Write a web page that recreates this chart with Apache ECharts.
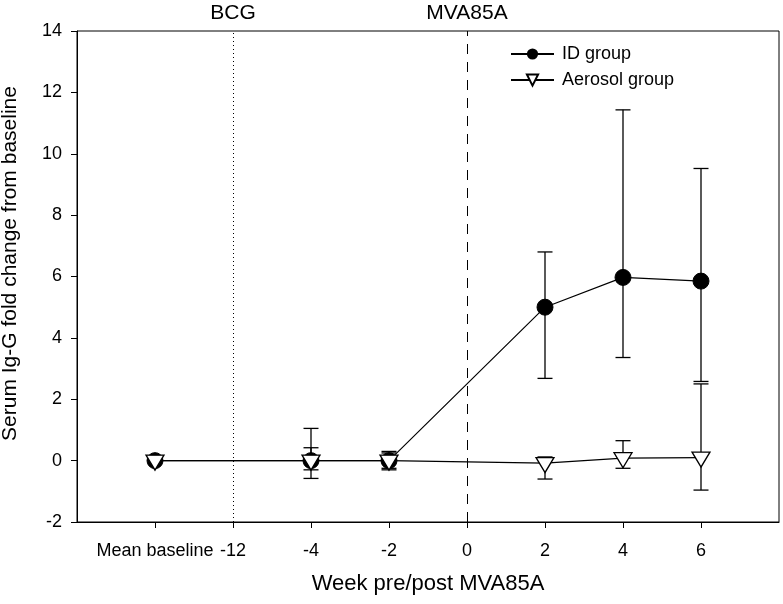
<!DOCTYPE html>
<html>
<head>
<meta charset="utf-8">
<script src="https://cdn.jsdelivr.net/npm/echarts@6/dist/echarts.min.js"></script>
<style>
html, body { margin: 0; background: #fff; }
#main { width: 783px; height: 604px; }
</style>
</head>
<body>
<div id="main"></div>
<script>
// weeks relative to MVA85A (-8 is the "Mean baseline" slot, -6 the "-12" slot)
let weeks = [-8, -4, -2, 2, 4, 6];

let idMean = [0, 0, 0, 5.0, 5.97, 5.85];
let idLow = [0, -0.58, -0.3, 2.68, 3.36, 2.58];
let idHigh = [0, 1.05, 0.3, 6.8, 11.43, 9.52];

let aeroMean = [0, 0, 0, -0.08, 0.08, 0.1];
let aeroLow = [0, -0.3, -0.25, -0.6, -0.25, -0.96];
let aeroHigh = [0, 0.42, 0.25, 0.12, 0.65, 2.5];

let xTickValues = [-8, -6, -4, -2, 0, 2, 4, 6];
let xTickLabels = ['Mean baseline', '-12', '-4', '-2', '0', '2', '4', '6'];

let font = 'Liberation Sans, Arial, sans-serif';

let myChart = echarts.init(document.getElementById('main'));

function pairs(ys) {
    return weeks.map((w, i) => [w, ys[i]]);
}

function errRows(low, high) {
    return weeks.map((w, i) => [w, low[i], high[i]]);
}

// draws a vertical error bar with caps
function renderErr(params, api) {
    let x = api.value(0);
    let lo = api.value(1);
    let hi = api.value(2);
    if (lo === hi) return null;
    let p1 = api.coord([x, lo]);
    let p2 = api.coord([x, hi]);
    let hw = 7.5;
    let style = { stroke: '#000', lineWidth: 1.3 };
    return {
        type: 'group',
        children: [
            { type: 'line', shape: { x1: p1[0], y1: p1[1], x2: p2[0], y2: p2[1] }, style: style },
            { type: 'line', shape: { x1: p1[0] - hw, y1: p1[1], x2: p1[0] + hw, y2: p1[1] }, style: style },
            { type: 'line', shape: { x1: p2[0] - hw, y1: p2[1], x2: p2[0] + hw, y2: p2[1] }, style: style }
        ]
    };
}

let option = {
    animation: false,
    backgroundColor: '#fff',
    grid: {
        left: 77,
        right: 4,
        top: 31,
        bottom: 82,
        outerBoundsMode: 'none',
        show: true,
        borderColor: '#000',
        borderWidth: 1
    },
    legend: {
        orient: 'vertical',
        left: 505,
        top: 40,
        itemWidth: 43,
        itemHeight: 14,
        itemGap: 8,
        textStyle: { fontFamily: font, fontSize: 18, color: '#000', padding: [0, 0, 0, 3] },
        data: ['ID group', 'Aerosol group']
    },
    xAxis: {
        type: 'value',
        min: -10,
        max: 8,
        interval: 2,
        name: 'Week pre/post MVA85A',
        nameLocation: 'middle',
        nameGap: 51,
        nameTextStyle: { fontFamily: font, fontSize: 22, color: '#000' },
        axisLine: { onZero: false, lineStyle: { color: '#000', width: 1 } },
        axisTick: { customValues: xTickValues, length: 6, lineStyle: { color: '#000' } },
        axisLabel: {
            customValues: xTickValues,
            margin: 20,
            fontFamily: font,
            fontSize: 18,
            color: '#000',
            formatter: v => xTickLabels[xTickValues.indexOf(v)]
        },
        splitLine: { show: false }
    },
    yAxis: {
        type: 'value',
        min: -2,
        max: 14,
        interval: 2,
        name: 'Serum Ig-G fold change from baseline',
        nameLocation: 'middle',
        nameGap: 56,
        nameRotate: 90,
        nameTextStyle: { fontFamily: font, fontSize: 21, color: '#000', padding: [0, 0, 0, 26] },
        axisLine: { onZero: false, lineStyle: { color: '#000', width: 1 } },
        axisTick: { length: 6, lineStyle: { color: '#000' } },
        axisLabel: { margin: 15, fontFamily: font, fontSize: 18, color: '#000' },
        splitLine: { show: false }
    },
    series: [
        {
            type: 'custom',
            renderItem: renderErr,
            data: errRows(idLow, idHigh),
            z: 1,
            silent: true
        },
        {
            type: 'custom',
            renderItem: renderErr,
            data: errRows(aeroLow, aeroHigh),
            z: 1,
            silent: true
        },
        {
            name: 'ID group',
            type: 'line',
            data: pairs(idMean),
            symbol: 'circle',
            symbolSize: 16,
            lineStyle: { color: '#000', width: 1.2 },
            itemStyle: { color: '#000', borderColor: '#000' },
            z: 3,
            markLine: {
                silent: true,
                symbol: 'none',
                label: {
                    position: 'end',
                    distance: 7,
                    fontFamily: font,
                    fontSize: 21,
                    color: '#000'
                },
                data: [
                    { xAxis: -6, label: { formatter: 'BCG' }, lineStyle: { type: [1, 3], color: '#000', width: 1 } },
                    { xAxis: 0, label: { formatter: 'MVA85A' }, lineStyle: { type: [10, 8], color: '#000', width: 1 } }
                ]
            }
        },
        {
            name: 'Aerosol group',
            type: 'line',
            data: pairs(aeroMean),
            symbol: 'triangle',
            symbolRotate: 180,
            symbolSize: [18, 15],
            symbolOffset: [0, 2],
            lineStyle: { color: '#000', width: 1.2 },
            itemStyle: { color: '#fff', borderColor: '#000', borderWidth: 1.3 },
            z: 4
        }
    ]
};

myChart.setOption(option);
</script>
</body>
</html>
